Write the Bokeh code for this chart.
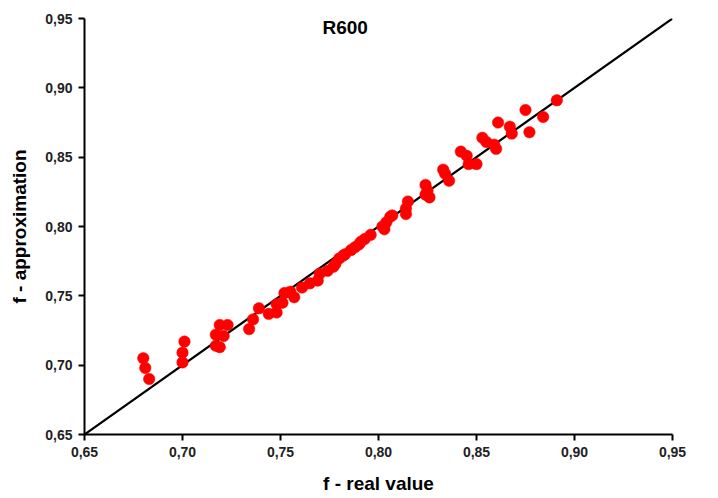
from bokeh.plotting import figure
from bokeh.models import Range1d, FixedTicker, CustomJSTickFormatter, Label
from bokeh.embed import file_html
from bokeh.resources import INLINE

# Real friction factor vs. its approximation for R600
f_real = [0.680, 0.681, 0.683, 0.701, 0.700, 0.700, 0.719, 0.723, 0.717, 0.721,
          0.717, 0.719, 0.734, 0.736, 0.739, 0.744, 0.748, 0.748, 0.751, 0.752,
          0.755, 0.757, 0.761, 0.765, 0.769, 0.770, 0.774, 0.777, 0.780, 0.778,
          0.782, 0.783, 0.786, 0.788, 0.791, 0.793, 0.796, 0.790, 0.803, 0.804,
          0.806, 0.807, 0.802, 0.814, 0.814, 0.815, 0.824, 0.825, 0.826, 0.824,
          0.833, 0.834, 0.836, 0.842, 0.845, 0.846, 0.850, 0.853, 0.855, 0.859,
          0.860, 0.861, 0.867, 0.868, 0.875, 0.884, 0.877, 0.891]
f_approx = [0.705, 0.698, 0.690, 0.717, 0.709, 0.702, 0.729, 0.729, 0.722, 0.721,
            0.714, 0.713, 0.726, 0.733, 0.741, 0.737, 0.738, 0.744, 0.745, 0.752,
            0.753, 0.749, 0.756, 0.759, 0.761, 0.766, 0.768, 0.771, 0.777, 0.773,
            0.779, 0.780, 0.783, 0.785, 0.789, 0.791, 0.794, 0.787, 0.798, 0.803,
            0.807, 0.808, 0.800, 0.809, 0.813, 0.818, 0.830, 0.826, 0.821, 0.823,
            0.841, 0.838, 0.833, 0.854, 0.851, 0.845, 0.845, 0.864, 0.861, 0.859,
            0.856, 0.875, 0.872, 0.867, 0.884, 0.879, 0.868, 0.891]

# Ideal agreement line y = x
diag = [0.65, 0.95]
ticks = [0.65, 0.70, 0.75, 0.80, 0.85, 0.90, 0.95]

p = figure(width=718, height=498, output_backend="svg", toolbar_location=None,
           x_range=Range1d(0.65, 0.95), y_range=Range1d(0.65, 0.95),
           min_border_left=84, min_border_right=46, min_border_top=18,
           min_border_bottom=64)
p.outline_line_color = None
p.grid.visible = False
p.background_fill_color = "white"
p.border_fill_color = "white"

p.line(diag, diag, line_color="black", line_width=2.2)
p.scatter(f_real, f_approx, size=11.5, fill_color="#ff0000", line_color="#ff0000",
          line_width=0.5)

fmt = CustomJSTickFormatter(code="return tick.toFixed(2).replace('.', ',');")
for ax in (p.xaxis[0], p.yaxis[0]):
    ax.ticker = FixedTicker(ticks=ticks)
    ax.formatter = fmt
    ax.minor_tick_line_color = None
    ax.major_tick_in = 0
    ax.major_tick_out = 6
    ax.axis_line_width = 2
    ax.axis_line_color = "black"
    ax.major_tick_line_width = 2
    ax.major_tick_line_color = "black"
    ax.major_label_text_font = "Liberation Sans"
    ax.major_label_text_font_size = "14px"
    ax.major_label_text_font_style = "bold"
    ax.major_label_text_color = "#222222"
    ax.axis_label_text_font = "Liberation Sans"
    ax.axis_label_text_font_size = "19px"
    ax.axis_label_text_font_style = "bold"
    ax.axis_label_text_color = "black"

p.xaxis.axis_label = "f - real value"
p.yaxis.axis_label = "f - approximation"
p.xaxis.major_label_standoff = 6
p.yaxis.major_label_standoff = 6
p.xaxis.axis_label_standoff = 13
p.yaxis.axis_label_standoff = 12

title = Label(x=0.783, y=0.9435, text="R600",
              text_font="Liberation Sans", text_font_size="19px",
              text_font_style="bold", text_color="black",
              text_align="center", text_baseline="middle")
p.add_layout(title)

open("out.html", "w").write(file_html(p, INLINE))
